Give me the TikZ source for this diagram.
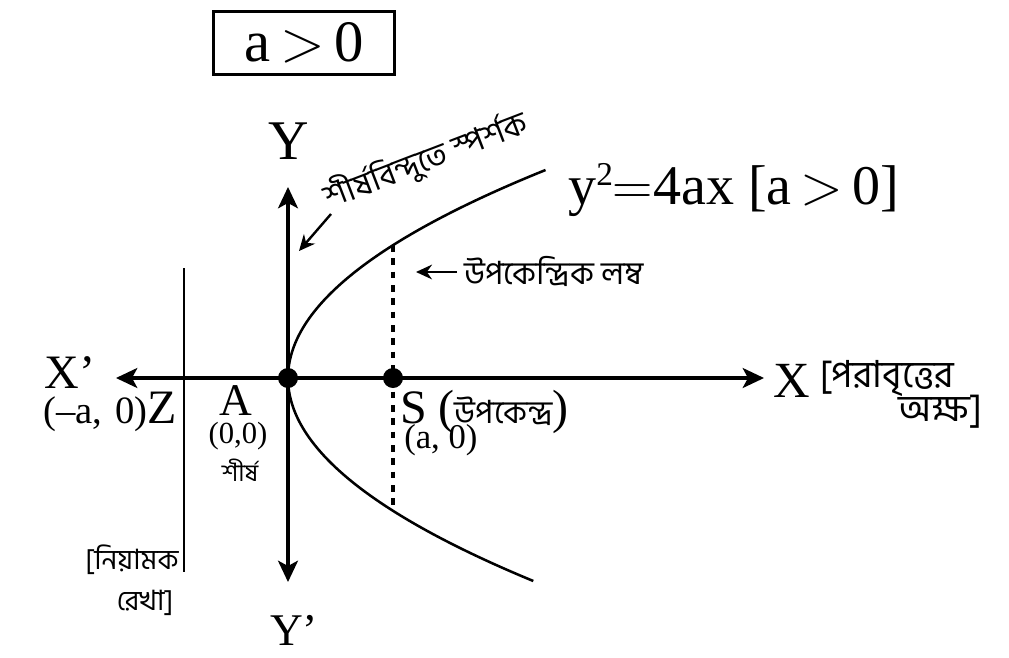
\RequirePackage{fix-cm}
\documentclass[tikz,border=0pt]{standalone}
\usepackage{fontspec}
\setmainfont{Liberation Serif}
\newfontfamily\bn[Script=Bengali]{Hind Siliguri}
\usetikzlibrary{arrows.meta}
\newcommand{\supdigit}[1]{\raisebox{0.75ex}{\fontsize{25}{25}\selectfont #1}}
\begin{document}
\begin{tikzpicture}[x=0.75pt,y=-0.75pt,
  lbl/.style={inner sep=0pt, font=\fontsize{34}{36}\selectfont},
  smalllbl/.style={inner sep=0pt, font=\fontsize{25}{27}\selectfont},
  bnl/.style={inner sep=0pt, font=\bn\fontsize{21}{23}\selectfont},
  axisline/.style={line width=2.3pt},
  curveline/.style={line width=1.9pt},
  dotnode/.style={circle, fill=black, inner sep=0pt, minimum size=15pt},
  pointer/.style={line width=1.8pt, -{Stealth[length=12pt,width=11pt]}},
  bigtip/.tip={Stealth[length=16pt,width=15pt,inset=4pt]}
]
\useasboundingbox[fill=white] (0,0) rectangle (1009,657);

% title box
\node[draw, line width=2pt, minimum width=136pt, minimum height=47pt, inner sep=0pt,
      font=\fontsize{44}{46}\selectfont] (box) at (304,43) {a$\,>\,$0};

% axes
\coordinate (ytop) at (288,187);
\coordinate (ybot) at (288,582);
\coordinate (xl) at (116,378);
\coordinate (xr) at (764,378);
\draw[axisline, {bigtip}-{bigtip}] (ybot) -- (ytop);
\draw[axisline, {bigtip}-{bigtip}] (xl) -- (xr);

% directrix
\coordinate (dtop) at (184,268);
\coordinate (dbot) at (184,572);
\draw[line width=1.6pt] (dtop) -- (dbot);

% parabola
\draw[curveline] plot[domain=-208:203, samples=90, smooth] ({288+168*(\x/168)*(\x/168)},{378+\x});

% latus rectum
\coordinate (L1) at (393,245);
\coordinate (L2) at (393,511);
\draw[line width=2.6pt, dash pattern=on 5pt off 5pt] (L1) -- (L2);

% points
\node[dotnode] (A) at (288,378) {};
\node[dotnode] (S) at (393,378) {};

% axis labels
\node[lbl, font=\fontsize{42}{44}\selectfont] (Y) at (289,141) {Y};
\node[lbl, font=\fontsize{34}{36}\selectfont] (Yp) at (294,630) {Y’};
\node[lbl, font=\fontsize{36}{38}\selectfont] (Xp) at (70,373) {X’};
\node[lbl, font=\fontsize{38}{40}\selectfont] (X) at (792,381) {X};

% equation
\node[lbl, anchor=west, font=\fontsize{42}{44}\selectfont] (eq) at (568,190) {y\supdigit{2}$=$4ax [a$\,>\,$0]};

% tangent at vertex label
\node[bnl, rotate=21, font=\bn\fontsize{24}{26}\selectfont] (tanlbl) at (426,160) {শীর্ষবিন্দুতে স্পর্শক};
\coordinate (tanfrom) at (331,214);
\coordinate (tanto) at (299,251);
\draw[pointer] (tanfrom) -- (tanto);

% latus rectum label
\coordinate (lrfrom) at (457,272);
\coordinate (lrto) at (416,272);
\draw[pointer] (lrfrom) -- (lrto);
\node[bnl, anchor=west, font=\bn\fontsize{24}{26}\selectfont] (lrlbl) at (464,271) {উপকেন্দ্রিক লম্ব};

% focus labels
\node[lbl, anchor=west, font=\fontsize{36}{38}\selectfont] (Slbl) at (400,412) {S ({\bn\fontsize{24}{26}\selectfont উপকেন্দ্র})};
\node[smalllbl, anchor=west, font=\fontsize{26}{28}\selectfont] (Scoord) at (404,440) {(a, 0)};

% vertex labels
\node[lbl, font=\fontsize{34}{36}\selectfont] (Albl) at (236,401) {A};
\node[smalllbl, font=\fontsize{23}{25}\selectfont] (Acoord) at (238,436) {(0,0)};
\node[bnl, font=\bn\fontsize{18}{20}\selectfont] (Avert) at (240,470) {শীর্ষ};

% Z label
\node[inner sep=0pt, anchor=east] (Zlbl) at (177,412) {{\fontsize{29}{31}\selectfont (–a,\,\,0)}{\fontsize{36}{38}\selectfont Z}};

% axis of parabola label
\node[bnl, anchor=west, font=\bn\fontsize{28}{30}\selectfont] (axl1) at (820,378) {[পরাবৃত্তের};
\node[bnl, anchor=west, font=\bn\fontsize{28}{30}\selectfont] (axl2) at (898,412) {অক্ষ]};

% directrix label
\node[bnl] (dl1) at (132,560) {[নিয়ামক};
\node[bnl] (dl2) at (145,603) {রেখা]};
\end{tikzpicture}
\end{document}
